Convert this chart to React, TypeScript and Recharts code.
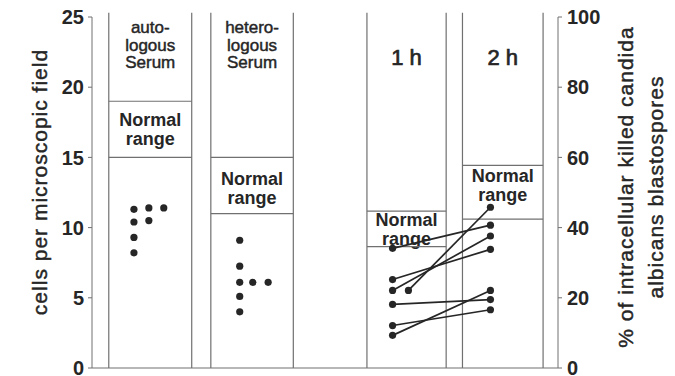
import React from "react";
import {
  ComposedChart,
  XAxis,
  YAxis,
  Scatter,
  ReferenceLine,
  ReferenceArea,
  Label,
} from "recharts";

const INK = "#262626";
const RULE = "#707070";
const FONT = "'Liberation Sans', Arial, Helvetica, sans-serif";

// panels on a hidden 0-100 x scale
const panelLeft = [3.6, 25.5, 59.0, 79.5];
const panelRight = [21.4, 43.2, 76.0, 96.8];
const panelAxis = ["cells", "cells", "pct", "pct"];
const panelHeader = [
  ["auto-", "logous", "Serum"],
  ["hetero-", "logous", "Serum"],
  ["1 h"],
  ["2 h"],
];
const normalLow = [15, 11, 34.6, 42.4];
const normalHigh = [19, 15, 44.7, 57.7];
// small vertical nudge (px) of each "Normal range" label
const normalNudge = [0, 3, 0, -7];

const cellTicks = [0, 5, 10, 15, 20, 25];
const pctTicks = [0, 20, 40, 60, 80, 100];

// cells per microscopic field
const autoX = [9.0, 9.0, 9.0, 9.0, 12.2, 12.2, 15.4];
const autoCells = [11.3, 10.4, 9.3, 8.2, 11.4, 10.5, 11.4];
const heteroX = [31.7, 31.7, 31.7, 31.7, 31.7, 34.5, 37.8];
const heteroCells = [9.1, 7.25, 6.1, 5.1, 4.0, 6.1, 6.1];

// % killed blastospores, same sample after 1 h and 2 h
const x1h = [64.5, 67.9, 64.5, 64.5, 64.5, 64.5, 64.5];
const killed1h = [34.1, 22.1, 25.2, 22.1, 18.1, 12.1, 9.3];
const x2h = 85.5;
const killed2h = [40.7, 45.8, 33.8, 37.6, 19.5, 16.6, 22.1];

const Dot = (props: any) => <circle cx={props.cx} cy={props.cy} r={3.6} fill={INK} />;

const tickStyle = { fontSize: 20, fontWeight: 700, fill: INK, fontFamily: FONT };

// regular face with a thin outline reads like the medium weight of the original
const medium = { stroke: INK, strokeWidth: 0.45 };

const Header = (lines: string[]) => (props: any) => {
  const vb = props.viewBox;
  const cx = vb.x + vb.width / 2;
  const big = lines.length === 1;
  return (
    <text
      x={cx}
      textAnchor="middle"
      fontFamily={FONT}
      fontSize={big ? 22 : 17}
      fill={INK}
      {...medium}
      strokeWidth={big ? 0.7 : 0.45}
    >
      {lines.map((s, i) => (
        <tspan key={i} x={cx} y={vb.y + (big ? 48 : 16 + i * 17.5)}>
          {s}
        </tspan>
      ))}
    </text>
  );
};

const NormalRange = (nudge: number) => (props: any) => {
  const vb = props.viewBox;
  const cx = vb.x + vb.width / 2;
  const cy = vb.y + vb.height / 2 + nudge;
  return (
    <text x={cx} textAnchor="middle" fontFamily={FONT} fontSize={18} fontWeight={700} fill={INK}>
      <tspan x={cx} y={cy - 3}>Normal</tspan>
      <tspan x={cx} y={cy + 16}>range</tspan>
    </text>
  );
};

const LeftTitle = (props: any) => {
  const vb = props.viewBox;
  const x = vb.x + 39;
  const y = 182;
  return (
    <text
      x={x}
      y={y}
      transform={`rotate(-90 ${x} ${y})`}
      textAnchor="middle"
      dominantBaseline="central"
      fontFamily={FONT}
      fontSize={21}
      letterSpacing={1}
      fill={INK}
      {...medium}
    >
      cells per microscopic field
    </text>
  );
};

const RightTitle = (props: any) => {
  const vb = props.viewBox;
  const y = 187;
  const x1 = vb.x + 67;
  const x2 = vb.x + 97;
  return (
    <g fontFamily={FONT} fontSize={21} letterSpacing={1} fill={INK} {...medium}>
      <text x={x1} y={y} transform={`rotate(-90 ${x1} ${y})`} textAnchor="middle" dominantBaseline="central">
        % of intracellular killed candida
      </text>
      <text x={x2} y={y} transform={`rotate(-90 ${x2} ${y})`} textAnchor="middle" dominantBaseline="central">
        albicans blastospores
      </text>
    </g>
  );
};

export default function App() {
  return (
    <div style={{ position: "absolute", left: 0, top: 0, background: "#fff" }}>
      <ComposedChart width={675} height={376} margin={{ top: 17, right: 0, bottom: 8, left: 0 }}>
        <XAxis type="number" dataKey="x" domain={[0, 100]} hide />
        <YAxis
          yAxisId="cells"
          domain={[0, 25]}
          ticks={cellTicks}
          interval={0}
          width={92}
          tick={tickStyle}
          stroke={RULE}
          tickSize={4}
          tickMargin={4}
        >
          <Label content={LeftTitle} />
        </YAxis>
        <YAxis
          yAxisId="pct"
          orientation="right"
          domain={[0, 100]}
          ticks={pctTicks}
          interval={0}
          width={117}
          tick={tickStyle}
          stroke={RULE}
          tickSize={4}
          tickMargin={5}
        >
          <Label content={RightTitle} />
        </YAxis>

        <ReferenceLine yAxisId="cells" y={0} stroke={RULE} strokeWidth={1.2} />

        {panelLeft.map((l, i) => (
          <ReferenceArea
            key={`h${i}`}
            yAxisId="cells"
            x1={l}
            x2={panelRight[i]}
            y1={0}
            y2={25}
            fill="none"
            stroke="none"
            label={Header(panelHeader[i])}
          />
        ))}
        {panelLeft.map((l, i) => (
          <ReferenceArea
            key={`n${i}`}
            yAxisId={panelAxis[i]}
            x1={l}
            x2={panelRight[i]}
            y1={normalLow[i]}
            y2={normalHigh[i]}
            fill="none"
            stroke="none"
            label={NormalRange(normalNudge[i])}
          />
        ))}
        {[...panelLeft, ...panelRight].map((x, i) => (
          <ReferenceLine
            key={`v${i}`}
            yAxisId="cells"
            segment={[{ x, y: 0 }, { x, y: 25.3 }]}
            stroke={RULE}
            strokeWidth={1.2}
            ifOverflow="visible"
          />
        ))}
        {panelLeft.flatMap((l, i) =>
          [normalLow[i], normalHigh[i]].map((v, j) => (
            <ReferenceLine
              key={`r${i}${j}`}
              yAxisId={panelAxis[i]}
              segment={[{ x: l, y: v }, { x: panelRight[i], y: v }]}
              stroke={RULE}
              strokeWidth={1.2}
            />
          ))
        )}

        <Scatter
          yAxisId="cells"
          data={autoX.map((x, i) => ({ x, y: autoCells[i] }))}
          dataKey="y"
          shape={Dot}
          isAnimationActive={false}
        />
        <Scatter
          yAxisId="cells"
          data={heteroX.map((x, i) => ({ x, y: heteroCells[i] }))}
          dataKey="y"
          shape={Dot}
          isAnimationActive={false}
        />
        {killed1h.map((v, i) => (
          <Scatter
            key={`k${i}`}
            yAxisId="pct"
            data={[
              { x: x1h[i], y: v },
              { x: x2h, y: killed2h[i] },
            ]}
            dataKey="y"
            line={{ stroke: INK, strokeWidth: 1.7 }}
            lineType="joint"
            shape={Dot}
            isAnimationActive={false}
          />
        ))}
      </ComposedChart>
    </div>
  );
}
